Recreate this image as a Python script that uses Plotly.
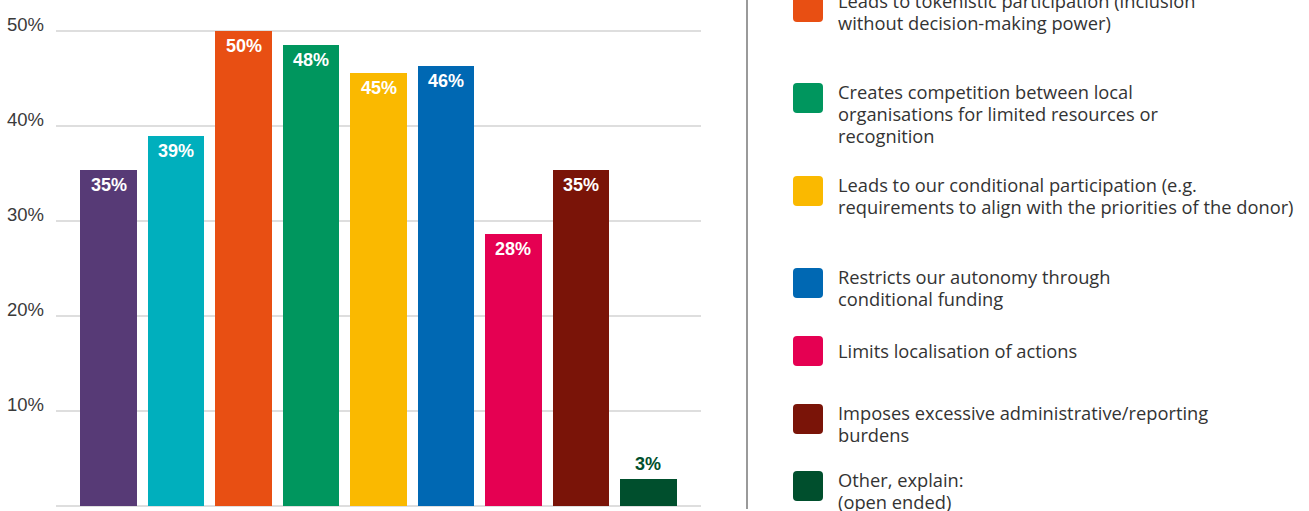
import plotly.graph_objects as go

# ---- data ----
bar_values = [35.4, 38.9, 50.0, 48.5, 45.6, 46.3, 28.6, 35.4, 2.8]
bar_labels = ["35%", "39%", "50%", "48%", "45%", "46%", "28%", "35%", "3%"]
bar_colors = ["#573a76", "#00afbd", "#e84f13", "#00965e", "#fab900",
              "#0068b3", "#e50052", "#7a1408", "#004f2d"]
legend_texts = [
    None,  # cropped out of view
    None,  # cropped out of view
    "Leads to tokenistic participation (inclusion<br>without decision-making power)",
    "Creates competition between local<br>organisations for limited resources or<br>recognition",
    "Leads to our conditional participation (e.g.<br>requirements to align with the priorities of the donor)",
    "Restricts our autonomy through<br>conditional funding",
    "Limits localisation of actions",
    "Imposes excessive administrative/reporting<br>burdens",
    "Other, explain:<br>(open ended)",
]
y_tickvals = [0, 10, 20, 30, 40, 50]
y_ticktext = ["", "10%", "20%", "30%", "40%", "50%"]

# ---- layout constants (pixels) ----
W, H = 1309, 511
legend_square_tops = [None, None, -8, 83, 176, 268, 336, 404, 471]
LINE_H = 22.3

x_idx = list(range(len(bar_values)))

fig = go.Figure()
fig.add_trace(go.Bar(
    x=x_idx, y=bar_values, marker=dict(color=bar_colors, line=dict(width=0)),
    width=0.844, hoverinfo="skip", showlegend=False,
))

annotations = []
for i, (v, lab, c) in enumerate(zip(bar_values, bar_labels, bar_colors)):
    if v >= 10:
        annotations.append(dict(x=i, y=v, xref="x", yref="y", text=f"<b>{lab}</b>",
                                showarrow=False, yanchor="top", yshift=-3,
                                font=dict(family="Liberation Sans", size=18, color="white")))
    else:
        annotations.append(dict(x=i, y=v, xref="x", yref="y", text=f"<b>{lab}</b>",
                                showarrow=False, yanchor="bottom", yshift=3,
                                font=dict(family="Liberation Sans", size=18, color=c)))

shapes = []
# divider line
shapes.append(dict(type="line", xref="paper", yref="paper",
                   x0=747 / W, x1=747 / W, y0=(H - 509) / H, y1=1.0,
                   line=dict(color="#9a9a9a", width=2)))


def rounded_square(x0, y0, size, r):
    # pixel coordinates (y down) -> paper coords path
    def px(x, y):
        return f"{x / W:.6f},{(H - y) / H:.6f}"
    x1, y1 = x0 + size, y0 + size
    return (f"M {px(x0 + r, y0)} L {px(x1 - r, y0)} Q {px(x1, y0)} {px(x1, y0 + r)} "
            f"L {px(x1, y1 - r)} Q {px(x1, y1)} {px(x1 - r, y1)} "
            f"L {px(x0 + r, y1)} Q {px(x0, y1)} {px(x0, y1 - r)} "
            f"L {px(x0, y0 + r)} Q {px(x0, y0)} {px(x0 + r, y0)} Z")


for txt, top, c in zip(legend_texts, legend_square_tops, bar_colors):
    if txt is None:
        continue
    shapes.append(dict(type="path", xref="paper", yref="paper",
                       path=rounded_square(793, top, 30, 4),
                       fillcolor=c, line=dict(width=0)))
    lines = txt.split("<br>")
    first = top + 14.5 if len(lines) == 1 else top + 8
    for k, line in enumerate(lines):
        cy = first + k * LINE_H
        annotations.append(dict(x=837 / W, y=(H - cy) / H, xref="paper", yref="paper",
                                text=line, showarrow=False, xanchor="left", yanchor="middle",
                                align="left", borderpad=0,
                                font=dict(family="Open Sans", size=18.3, color="#333333")))

fig.update_layout(
    width=W, height=H,
    margin=dict(l=0, r=0, t=0, b=0),
    paper_bgcolor="white", plot_bgcolor="white",
    bargap=0,
    xaxis=dict(domain=[56 / W, 701 / W], range=[-0.778, 8.778],
               showticklabels=False, showgrid=False, zeroline=False,
               showline=False, fixedrange=True),
    yaxis=dict(domain=[0, 1], range=[-(H - 506) / 9.5, 50 + 31 / 9.5],
               tickvals=y_tickvals, ticktext=y_ticktext,
               showgrid=True, gridcolor="#dedede", gridwidth=2,
               zeroline=False, showline=False, ticks="",
               ticklabelstandoff=11, ticklabelshift=-6,
               tickfont=dict(family="Liberation Sans", size=18.5, color="#3a3a3a")),
    shapes=shapes, annotations=annotations,
)

fig.write_html("out.html", config={"displayModeBar": False},
               post_script="document.body.style.margin='0';document.body.style.overflow='hidden';")
